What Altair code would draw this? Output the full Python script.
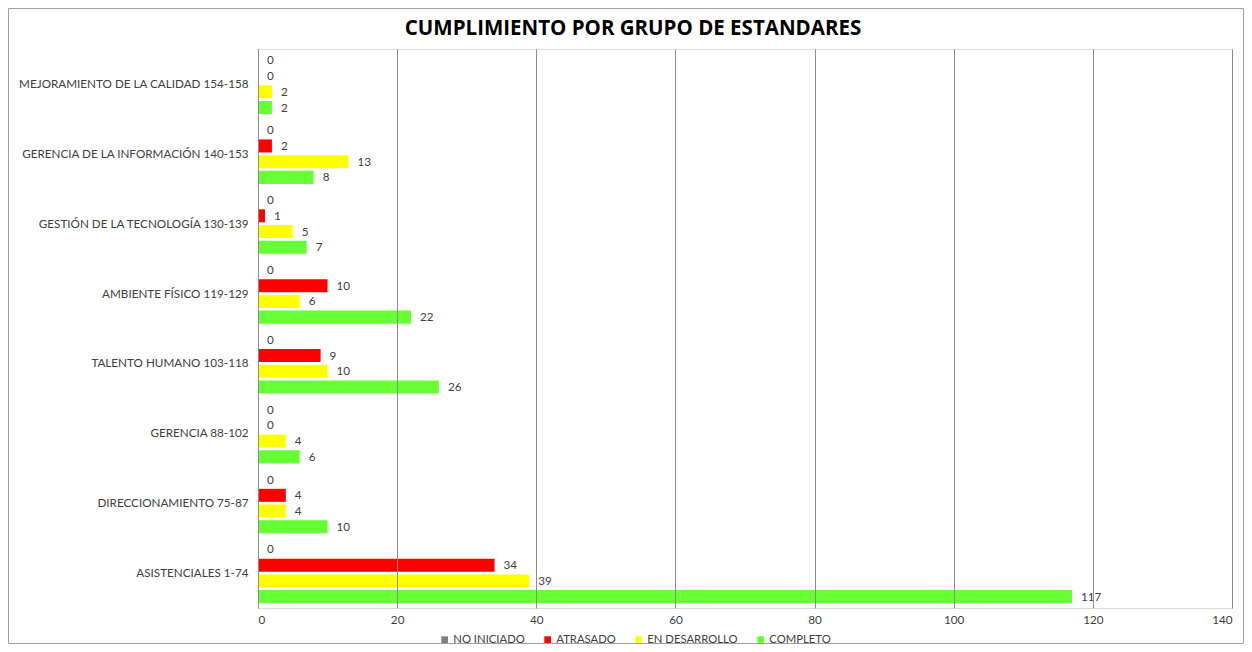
import altair as alt
import pandas as pd

categorias = [
    "MEJORAMIENTO DE LA CALIDAD 154-158",
    "GERENCIA DE LA INFORMACIÓN 140-153",
    "GESTIÓN DE LA TECNOLOGÍA 130-139",
    "AMBIENTE FÍSICO 119-129",
    "TALENTO HUMANO 103-118",
    "GERENCIA 88-102",
    "DIRECCIONAMIENTO 75-87",
    "ASISTENCIALES 1-74",
]
estados = ["NO INICIADO", "ATRASADO", "EN DESARROLLO", "COMPLETO"]
colores = ["#808080", "#FF0000", "#FFFF00", "#66FF33"]

no_iniciado = [0, 0, 0, 0, 0, 0, 0, 0]
atrasado = [0, 2, 1, 10, 9, 0, 4, 34]
en_desarrollo = [2, 13, 5, 6, 10, 4, 4, 39]
completo = [2, 8, 7, 22, 26, 6, 10, 117]

series = {
    "NO INICIADO": no_iniciado,
    "ATRASADO": atrasado,
    "EN DESARROLLO": en_desarrollo,
    "COMPLETO": completo,
}

rows = []
for i, cat in enumerate(categorias):
    for est in estados:
        rows.append({"grupo": cat, "estado": est, "valor": series[est][i]})
df = pd.DataFrame(rows)

FONT = "Lato"
TXT = "#404040"
FS = 11.7

y_enc = alt.Y(
    "grupo:N",
    sort=categorias,
    title=None,
    scale=alt.Scale(paddingInner=0.1, paddingOuter=0.05),
    axis=alt.Axis(
        labelFont=FONT, labelFontSize=FS, labelColor=TXT, labelPadding=10,
        ticks=False, domain=True, domainColor="#808080", labelLimit=400,
    ),
)
yoff_enc = alt.YOffset(
    "estado:N", sort=estados,
    scale=alt.Scale(paddingInner=0.17, paddingOuter=0.085),
)
x_enc = alt.X(
    "valor:Q",
    title=None,
    scale=alt.Scale(domain=[0, 140], nice=False),
    axis=alt.Axis(
        values=[0, 20, 40, 60, 80, 100, 120, 140],
        grid=True, gridColor="#8c8c8c", gridWidth=1,
        domain=False, ticks=False, zindex=1,
        labelFont=FONT, labelFontSize=FS, labelColor=TXT, labelPadding=6,
    ),
)

base = alt.Chart(df)

bars = base.mark_bar().encode(
    x=x_enc,
    y=y_enc,
    yOffset=yoff_enc,
    color=alt.Color(
        "estado:N", sort=estados,
        scale=alt.Scale(domain=estados, range=colores),
        legend=alt.Legend(
            title=None, orient="none", direction="horizontal",
            legendX=181, legendY=585,
            symbolType="square", symbolSize=45, symbolStrokeWidth=0,
            labelFont=FONT, labelFontSize=11.3, labelColor=TXT,
            columnPadding=17, labelOffset=3,
        ),
    ),
)

labels = base.mark_text(
    align="left", baseline="middle", dx=9, font=FONT, fontSize=FS, fill=TXT
).encode(
    x="valor:Q",
    y=alt.Y("grupo:N", sort=categorias),
    yOffset=alt.YOffset("estado:N", sort=estados),
    text="valor:Q",
)

frame = alt.Chart(pd.DataFrame({"f": [0]})).mark_rect(
    fill=None, stroke="#a0a0a0", strokeWidth=1
).encode(
    x=alt.value(-249.5), x2=alt.value(985.5),
    y=alt.value(-40.5), y2=alt.value(594.5),
)

chart = alt.layer(bars, labels, frame).properties(
    width=974,
    height=559,
    title=alt.TitleParams(
        "CUMPLIMIENTO POR GRUPO DE ESTANDARES",
        font="Open Sans", fontSize=20.5, fontWeight="bold", color="#000000",
        anchor="middle", dx=-112, offset=-31,
    ),
    autosize=alt.AutoSizeParams(type="none"),
    padding={"left": 250, "top": 41, "right": 12, "bottom": 36},
).configure_view(stroke=None).configure(background="white")

chart.save("out.html", embed_options={"renderer": "svg", "actions": False})
